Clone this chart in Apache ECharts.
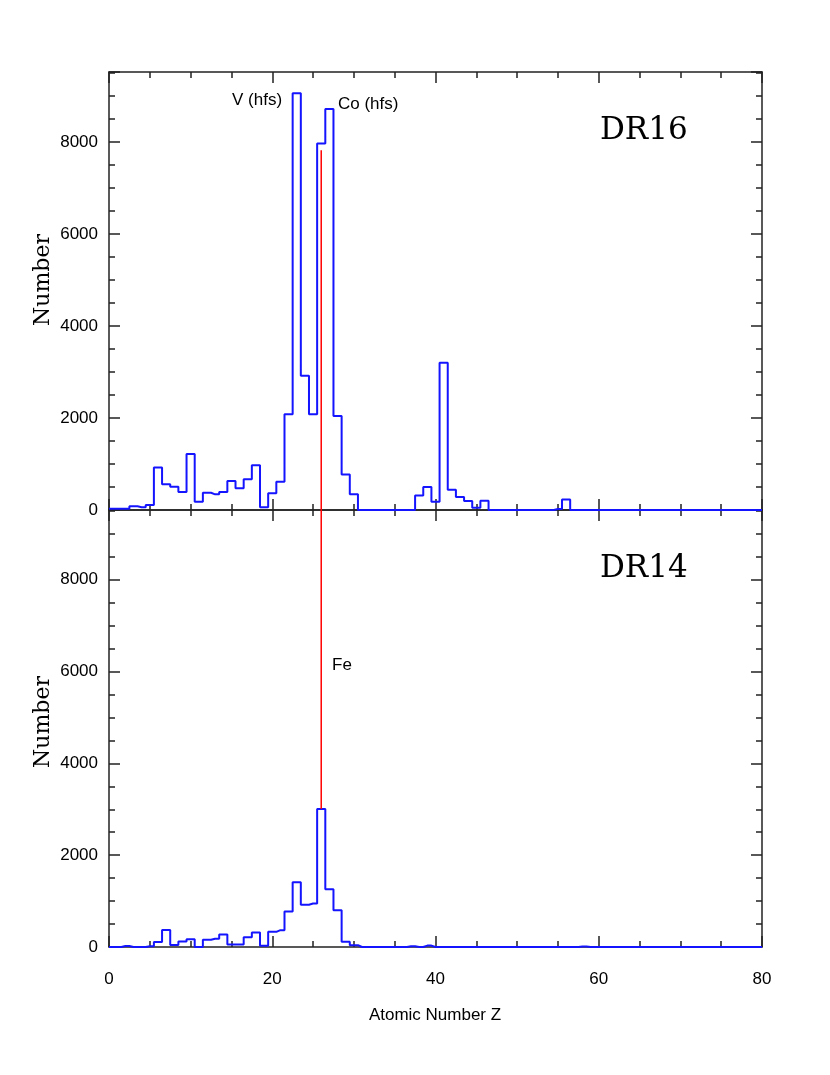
<!DOCTYPE html>
<html>
<head>
<meta charset="utf-8">
<script src="https://cdn.jsdelivr.net/npm/echarts@6/dist/echarts.min.js"></script>
<style>
  html, body { margin: 0; padding: 0; background: #fff; }
  #chart { width: 830px; height: 1075px; }
</style>
</head>
<body>
<div id="chart"></div>
<script>
// atomic number Z, one bin per element
const zValues = [];
for (let z = 0; z <= 80; z++) zValues.push(z);

// DR16 counts per Z (0..80)
const dr16Counts = [
  25, 25, 25, 80, 60, 110, 925, 560, 505, 390,
  1215, 178, 375, 340, 390, 630, 475, 670, 975, 60,
  365, 615, 2080, 9057, 2917, 2080, 7967, 8714, 2045, 773,
  345, 0, 0, 0, 0, 0, 0, 0, 316, 498,
  178, 3200, 440, 280, 193, 47, 200, 0, 0, 0,
  0, 0, 0, 0, 0, 20, 229, 0, 0, 0,
  0, 0, 0, 0, 0, 0, 0, 0, 0, 0,
  0, 0, 0, 0, 0, 0, 0, 0, 0, 0,
  0
];

// DR14 counts per Z (0..80), bottom panel
const dr14Counts = [
  0, 0, 20, 0, 0, 15, 110, 370, 45, 120,
  170, 0, 156, 178, 272, 55, 55, 214, 316, 25,
  330, 367, 774, 1413, 919, 948, 3008, 1260, 803, 115,
  40, 0, 0, 0, 0, 0, 0, 15, 0, 30,
  0, 0, 0, 0, 0, 0, 0, 0, 0, 0,
  0, 0, 0, 0, 0, 0, 0, 0, 10, 0,
  0, 0, 0, 0, 0, 0, 0, 0, 0, 0,
  0, 0, 0, 0, 0, 0, 0, 0, 0, 0,
  0
];

// Fe marker: red line at Z=26, from the DR14 peak up to 7820 in DR16
const feZ = 26;
const feTopEnd = 7820;
const feBottomStart = 3008;

const yMax = 9520;
const xTicks = [0, 20, 40, 60, 80];

const FONT = "'Liberation Sans', Arial, sans-serif";
const SERIF = "'DejaVu Serif', 'Liberation Serif', serif";
const axisColor = '#222';

function makeX(gridIndex, position, showLabel) {
  return {
    type: 'value', gridIndex: gridIndex, position: position,
    min: 0, max: 80, interval: 20,
    axisLine: { show: true, onZero: false, lineStyle: { color: axisColor, width: 1.5 } },
    axisTick: { show: true, inside: true, length: 11, lineStyle: { color: axisColor, width: 1.5 } },
    minorTick: { show: true, splitNumber: 4, length: 6, lineStyle: { color: axisColor, width: 1.5 } },
    splitLine: { show: false },
    axisLabel: { show: showLabel, margin: 24, color: '#000', fontSize: 17, fontFamily: FONT }
  };
}

// major (2000) and minor (500) y axes are separate so the tick lengths differ
function makeY(gridIndex, position, major) {
  return {
    type: 'value', gridIndex: gridIndex, position: position,
    min: 0, max: yMax, interval: major ? 2000 : 500,
    axisLine: { show: major, onZero: false, lineStyle: { color: axisColor, width: 1.5 } },
    axisTick: { show: true, inside: true, length: major ? 11 : 6, lineStyle: { color: axisColor, width: 1.5 } },
    splitLine: { show: false },
    axisLabel: {
      show: major && position === 'left',
      margin: 11, color: '#000', fontSize: 17, fontFamily: FONT,
      formatter: function (v) { return v % 2000 === 0 ? String(v) : ''; }
    }
  };
}

function histData(counts) {
  return zValues.map(function (z, i) { return [z, counts[i]]; });
}

let chart = echarts.init(document.getElementById('chart'), null, { renderer: 'canvas' });
let option = {
  backgroundColor: '#fff',
  animation: false,
  grid: [
    { left: 109, right: 68, top: 72, height: 438 },
    { left: 109, right: 68, top: 510, height: 437 }
  ],
  xAxis: [
    makeX(0, 'bottom', false),
    makeX(0, 'top', false),
    makeX(1, 'bottom', true),
    makeX(1, 'top', false)
  ],
  yAxis: [
    makeY(0, 'left', true),
    makeY(0, 'left', false),
    makeY(0, 'right', true),
    makeY(0, 'right', false),
    makeY(1, 'left', true),
    makeY(1, 'left', false),
    makeY(1, 'right', true),
    makeY(1, 'right', false)
  ],
  series: [
    {
      name: 'DR16', type: 'line', step: 'middle',
      xAxisIndex: 0, yAxisIndex: 0,
      data: histData(dr16Counts),
      showSymbol: false,
      lineStyle: { color: '#1414ff', width: 2 }
    },
    {
      name: 'DR14', type: 'line', step: 'middle',
      xAxisIndex: 2, yAxisIndex: 4,
      data: histData(dr14Counts),
      showSymbol: false,
      lineStyle: { color: '#1414ff', width: 2 }
    },
    {
      name: 'Fe16', type: 'line',
      xAxisIndex: 0, yAxisIndex: 0,
      data: [[feZ, 0], [feZ, feTopEnd]],
      showSymbol: false,
      lineStyle: { color: '#ff0000', width: 1.5 }
    },
    {
      name: 'Fe14', type: 'line',
      xAxisIndex: 2, yAxisIndex: 4,
      data: [[feZ, feBottomStart], [feZ, yMax]],
      showSymbol: false,
      lineStyle: { color: '#ff0000', width: 1.5 }
    }
  ],
  graphic: [
    { type: 'text', x: 232, y: 100, style: { text: 'V (hfs)', font: '17px ' + FONT, fill: '#000', verticalAlign: 'middle' } },
    { type: 'text', x: 338, y: 104, style: { text: 'Co (hfs)', font: '17px ' + FONT, fill: '#000', verticalAlign: 'middle' } },
    { type: 'text', x: 332, y: 665, style: { text: 'Fe', font: '17px ' + FONT, fill: '#000', verticalAlign: 'middle' } },
    { type: 'text', x: 600, y: 131, style: { text: 'DR16', font: '31px ' + SERIF, fill: '#000', verticalAlign: 'middle' } },
    { type: 'text', x: 600, y: 569, style: { text: 'DR14', font: '31px ' + SERIF, fill: '#000', verticalAlign: 'middle' } },
    { type: 'text', x: 43, y: 280, rotation: Math.PI / 2, style: { text: 'Number', font: '22px ' + SERIF, fill: '#000', align: 'center', verticalAlign: 'middle' } },
    { type: 'text', x: 43, y: 722, rotation: Math.PI / 2, style: { text: 'Number', font: '22px ' + SERIF, fill: '#000', align: 'center', verticalAlign: 'middle' } },
    { type: 'text', x: 435, y: 1015, style: { text: 'Atomic Number Z', font: '17px ' + FONT, fill: '#000', align: 'center', verticalAlign: 'middle' } }
  ]
};
chart.setOption(option);
</script>
</body>
</html>
